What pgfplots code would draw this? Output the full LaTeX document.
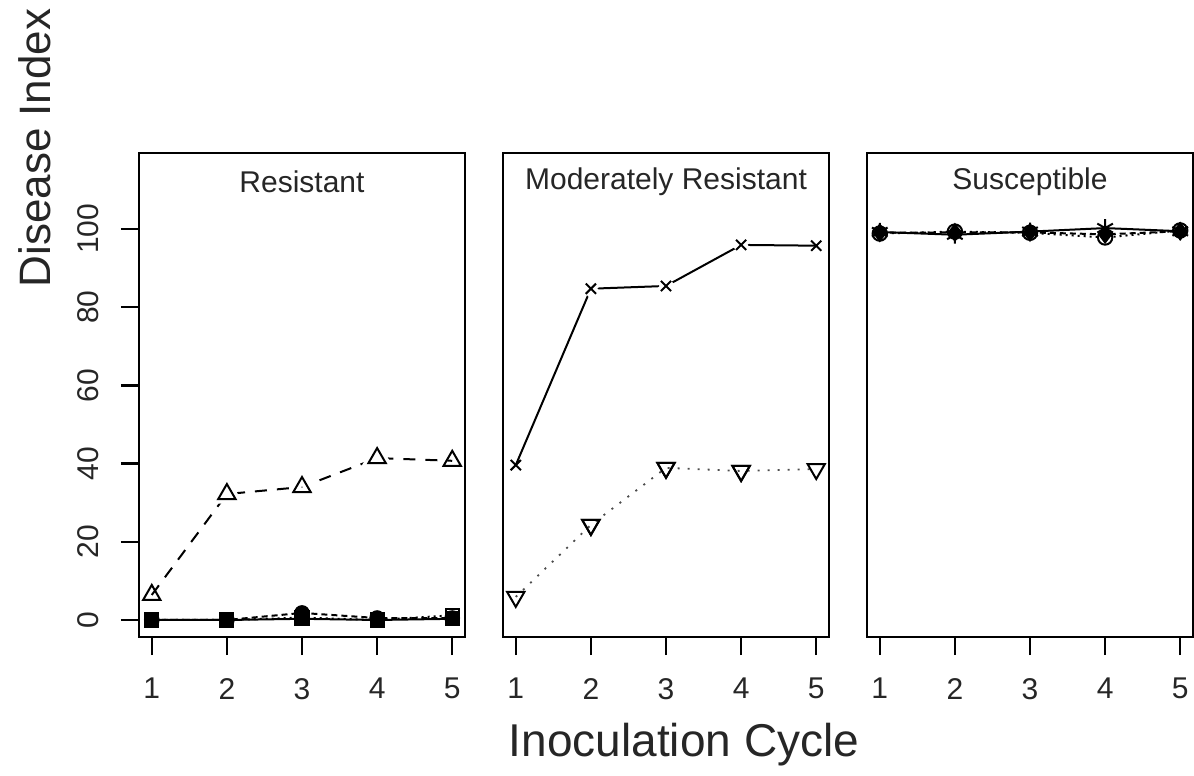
\documentclass[border=0pt]{standalone}
\usepackage{fontspec}
\setmainfont{Liberation Sans}
\usepackage{pgfplots}
\pgfplotsset{compat=1.18}
\pgfplotsset{
  panel/.style={
    scale only axis, width=163pt, height=242pt,
    xmin=0.83, xmax=5.17, ymin=-4.35, ymax=119.4,
    xtick={1,2,3,4,5}, ytick={0,20,40,60,80,100},
    tick align=outside, major tick length=9pt,
    xtick pos=bottom, ytick pos=left,
    axis line style={line width=1.2pt},
    every tick/.style={line width=1.2pt, black},
    /pgf/number format/assume math mode=true,
    ticklabel style={font=\fontsize{15}{18}\selectfont, color=black!85},
    xticklabel style={yshift=-8pt},
    yticklabel style={rotate=90, anchor=south},
    yticklabel shift=7.5pt,
    clip=false,
  },
  every axis plot/.append style={line width=1pt, black},
  halo/.style={only marks, mark indices={2,3,4}, mark options={draw=white, fill=white, line width=4.5pt, solid}},
}
\begin{document}
\begin{tikzpicture}
\useasboundingbox (-69.5pt,-69.5pt) rectangle (527.5pt,318.5pt);
% Panel 1
\begin{axis}[panel, at={(0pt,0pt)}, anchor=south west]
\addplot[dash pattern=on 6pt off 5pt, no marks]
  coordinates {(1,6.4)(2,32.2)(3,34.0)(4,41.4)(5,40.7)};
\addplot[halo, mark=triangle, mark size=5pt]
  coordinates {(1,6.4)(2,32.2)(3,34.0)(4,41.4)(5,40.7)};
\addplot[only marks, mark=triangle, mark size=5pt, mark options={solid, fill=white}]
  coordinates {(1,6.4)(2,32.2)(3,34.0)(4,41.4)(5,40.7)};
\addplot[solid, mark=square*, mark size=3.3pt]
  coordinates {(1,0)(2,0)(3,0.3)(4,0)(5,0.3)};
\addplot[dash pattern=on 3pt off 2pt, mark=*, mark size=3.4pt, mark options={solid}]
  coordinates {(1,0)(2,0)(3,1.8)(4,0.5)(5,0.5)};
\addplot[dash pattern=on 1pt off 2pt, mark=square, mark size=3.3pt, mark indices={3,5}, mark options={solid, fill=white}]
  coordinates {(1,0)(2,0)(3,0.6)(4,0)(5,1.2)};
\node[font=\fontsize{15}{18}\selectfont, black!85] at (rel axis cs:0.5,1) [yshift=-14.5pt] {Resistant};
\end{axis}
% Panel 2
\begin{axis}[panel, at={(182pt,0pt)}, anchor=south west, ytick=\empty]
\addplot[solid, no marks]
  coordinates {(1,39.6)(2,84.7)(3,85.4)(4,95.9)(5,95.7)};
\addplot[halo, mark=x, mark size=3.6pt]
  coordinates {(1,39.6)(2,84.7)(3,85.4)(4,95.9)(5,95.7)};
\addplot[only marks, mark=x, mark size=3.6pt]
  coordinates {(1,39.6)(2,84.7)(3,85.4)(4,95.9)(5,95.7)};
\addplot[black!70, line width=0.9pt, dash pattern=on 1pt off 4pt, no marks]
  coordinates {(1,5.9)(2,24.3)(3,38.9)(4,38.1)(5,38.6)};
\addplot[halo, mark=triangle, mark size=5pt, mark options={rotate=180}]
  coordinates {(1,5.9)(2,24.3)(3,38.9)(4,38.1)(5,38.6)};
\addplot[only marks, mark=triangle, mark size=5pt, mark options={solid, black, line width=1pt, rotate=180, fill=white}]
  coordinates {(1,5.9)(2,24.3)(3,38.9)(4,38.1)(5,38.6)};
\node[font=\fontsize{15}{18}\selectfont, black!85] at (rel axis cs:0.5,1) [yshift=-14.5pt] {Moderately Resistant};
\end{axis}
% Panel 3
\begin{axis}[panel, at={(364pt,0pt)}, anchor=south west, ytick=\empty]
\addplot[dash pattern=on 1pt off 2pt, mark=o, mark size=3.6pt, mark options={solid}]
  coordinates {(1,98.8)(2,99.3)(3,99.0)(4,97.8)(5,99.6)};
\addplot[dash pattern=on 3pt off 2pt, mark=diamond*, mark size=4pt, mark options={solid}]
  coordinates {(1,99.0)(2,99.1)(3,99.1)(4,98.6)(5,99.4)};
\addplot[solid, mark=asterisk, mark size=4.5pt]
  coordinates {(1,99.2)(2,98.5)(3,99.3)(4,100.2)(5,99.4)};
\node[font=\fontsize{15}{18}\selectfont, black!85] at (rel axis cs:0.5,1) [yshift=-14.5pt] {Susceptible};
\end{axis}
% Axis labels
\node[rotate=90, font=\fontsize{22}{26}\selectfont, black!85] at (-52pt,244.5pt) {Disease Index};
\node[font=\fontsize{23}{27}\selectfont, black!85] at (272.5pt,-54pt) {Inoculation Cycle};
\end{tikzpicture}
\end{document}
